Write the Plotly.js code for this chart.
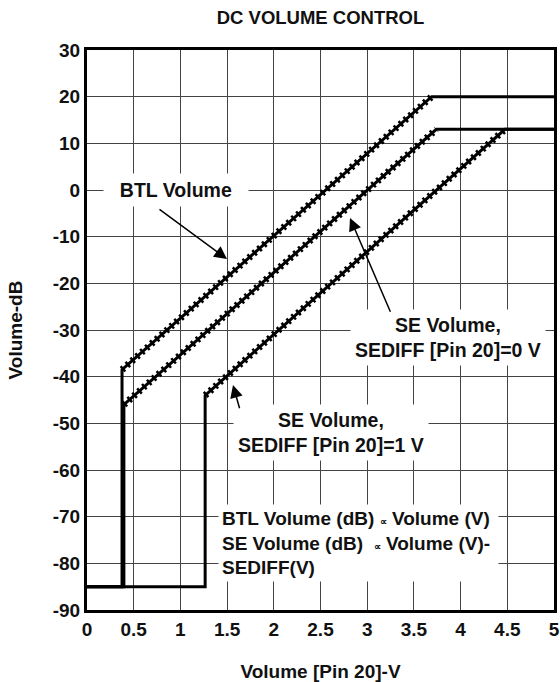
<!DOCTYPE html>
<html>
<head>
<meta charset="utf-8">
<script src="https://cdn.plot.ly/plotly-3.0.1.min.js"></script>
<style>
  html, body { margin: 0; padding: 0; background: #fff; }
  #chart { width: 560px; height: 682px; }
</style>
</head>
<body>
<div id="chart"></div>
<script>
// ---- data ----
const xTickVals = [0, 0.5, 1, 1.5, 2, 2.5, 3, 3.5, 4, 4.5, 5];
const xTickText = ['0', '0.5', '1', '1.5', '2', '2.5', '3', '3.5', '4', '4.5', '5'];
const yTickVals = [-90, -80, -70, -60, -50, -40, -30, -20, -10, 0, 10, 20, 30];
const yTickText = ['-90', '-80', '-70', '-60', '-50', '-40', '-30', '-20', '-10', '0', '10', '20', '30'];

// curve corner points (volume V, gain dB); the segment between index 2 and 3 is the stepped ramp
const btlX = [0, 0.375, 0.375, 3.69, 5];
const btlY = [-85, -85, -38.5, 20, 20];
const se0X = [0, 0.395, 0.395, 3.74, 5];
const se0Y = [-85, -85, -46, 13, 13];
const se1X = [0, 1.265, 1.265, 4.475, 5];
const se1Y = [-85, -85, -44, 13, 13];

const FONT = '"Liberation Sans", Arial, sans-serif';

function polyline(x, y) {
  return { x: x, y: y, type: 'scatter', mode: 'lines', hoverinfo: 'skip',
    line: { color: '#000', width: 3 }, showlegend: false };
}
function ramp(x, y) {
  // texture for the stepped ramp portion
  return { x: x.slice(2, 4), y: y.slice(2, 4), type: 'scatter', mode: 'lines', hoverinfo: 'skip',
    line: { color: '#000', width: 7, dash: '2.5px,4px' }, showlegend: false };
}

const traces = [
  polyline(btlX, btlY), ramp(btlX, btlY),
  polyline(se0X, se0Y), ramp(se0X, se0Y),
  polyline(se1X, se1Y), ramp(se1X, se1Y)
];

const txtFont = { family: FONT, size: 19.5, color: '#111', weight: 'bold' };

function arrow(tx, ty, hx, hy) {
  return { x: hx, y: hy, ax: tx, ay: ty, axref: 'x', ayref: 'y', xref: 'x', yref: 'y',
    text: '', showarrow: true, arrowhead: 2, arrowsize: 1.7, arrowwidth: 1.5,
    arrowcolor: '#000', standoff: 0, startstandoff: 0 };
}

const small = s => '<span style="font-size:10px">' + s + '</span>';

const annotations = [
  { x: 0.953, y: 0, xref: 'x', yref: 'y', text: '&nbsp;&nbsp;BTL Volume&nbsp;&nbsp;', showarrow: false,
    font: txtFont, bgcolor: '#fff', borderpad: 5 },
  { x: 3.86, y: -31.6, xref: 'x', yref: 'y', text: 'SE Volume,<br>SEDIFF [Pin 20]=0 V', showarrow: false,
    font: txtFont, bgcolor: '#fff', borderpad: 4 },
  { x: 2.612, y: -51.9, xref: 'x', yref: 'y', text: 'SE Volume,<br>SEDIFF [Pin 20]=1 V', showarrow: false,
    font: txtFont, bgcolor: '#fff', borderpad: 4 },
  { x: 1.403, y: -75.64, xref: 'x', yref: 'y', xanchor: 'left', align: 'left',
    text: 'BTL Volume (dB) ' + small('∝') + ' Volume (V)&nbsp;<br>SE Volume (dB)&nbsp; ' + small('∝') + ' Volume (V)-&nbsp;<br>SEDIFF(V)',
    showarrow: false, font: { family: FONT, size: 19, color: '#111', weight: 'bold' }, bgcolor: '#fff', borderpad: 3 },
  arrow(0.76, -3.9, 1.499, -14.8),
  arrow(3.255, -26.4, 2.816, -6.0),
  arrow(1.638, -47.1, 1.563, -41.8)
];

const axisCommon = {
  showgrid: true, gridcolor: '#444', gridwidth: 1,
  showline: true, mirror: true, linecolor: '#000', linewidth: 3,
  zeroline: false, ticks: '', automargin: false,
  tickfont: { family: FONT, size: 19, color: '#111', weight: 'bold' }
};

const layout = {
  width: 560, height: 682,
  margin: { l: 87, r: 6, t: 50, b: 72 },
  paper_bgcolor: '#fff', plot_bgcolor: '#fff',
  font: { family: FONT, color: '#111' },
  title: { text: 'DC VOLUME CONTROL', x: 0.5, xref: 'paper', y: 0.974, yref: 'container', yanchor: 'middle',
    font: { family: FONT, size: 18.5, color: '#111', weight: 'bold' } },
  xaxis: Object.assign({}, axisCommon, {
    range: [0, 5], tickmode: 'array', tickvals: xTickVals, ticktext: xTickText,
    title: { text: 'Volume [Pin 20]-V', standoff: 26, font: { family: FONT, size: 19, color: '#111', weight: 'bold' } }
  }),
  yaxis: Object.assign({}, axisCommon, {
    range: [-90, 30], tickmode: 'array', tickvals: yTickVals, ticktext: yTickText,
    title: { text: 'Volume-dB', standoff: 26, font: { family: FONT, size: 19, color: '#111', weight: 'bold' } }
  }),
  annotations: annotations,
  showlegend: false
};

Plotly.newPlot('chart', traces, layout, { staticPlot: true, displayModeBar: false });
</script>
</body>
</html>
